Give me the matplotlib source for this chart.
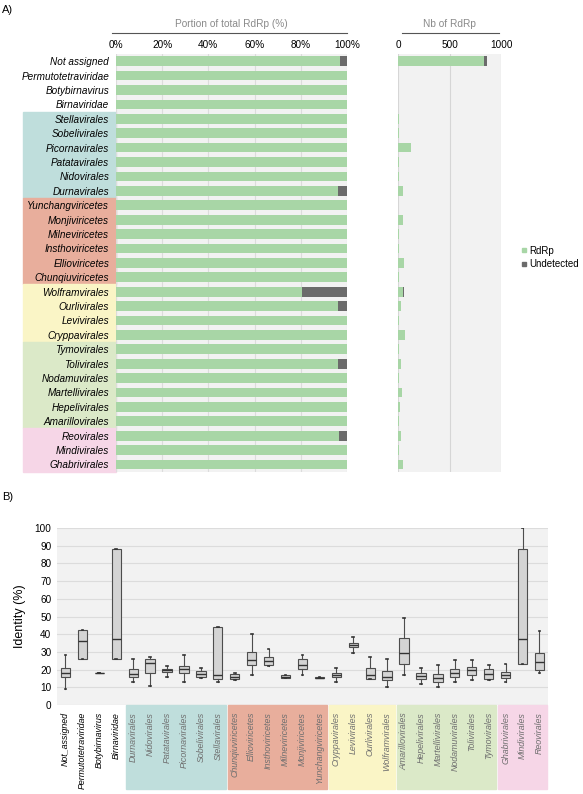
import numpy as np
import matplotlib
matplotlib.use("Agg")
from matplotlib import pyplot as plt
from matplotlib.patches import Rectangle
from matplotlib.lines import Line2D
import matplotlib.transforms as mtransforms

plt.rcParams['font.family'] = ['Liberation Sans', 'DejaVu Sans']

# --- datos panel A (orden de arriba hacia abajo)
top_rows = ["Not assigned", "Permutotetraviridae", "Botybirnavirus", "Birnaviridae",
            "Stellavirales", "Sobelivirales", "Picornavirales", "Patatavirales", "Nidovirales", "Durnavirales",
            "Yunchangviricetes", "Monjiviricetes", "Milneviricetes", "Insthoviricetes", "Ellioviricetes", "Chunqiuviricetes",
            "Wolframvirales", "Ourlivirales", "Levivirales", "Cryppavirales",
            "Tymovirales", "Tolivirales", "Nodamuvirales", "Martellivirales", "Hepelivirales", "Amarillovirales",
            "Reovirales", "Mindivirales", "Ghabrivirales"]
rdrp_n = [835, 3, 1, 2, 4, 6, 126, 8, 5, 48, 3, 42, 4, 5, 58, 6,
          42, 24, 8, 68, 7, 24, 9, 40, 15, 10, 29, 6, 50]
undet_n = [25, 0, 0, 0, 0, 0, 0, 0, 0, 2, 0, 0, 0, 0, 0, 0,
           10, 1, 0, 0, 0, 1, 0, 0, 0, 0, 1, 0, 0]

# grupos (color, cantidad de filas)
group_colors = [None, "#bfdedc", "#e8ae9c", "#faf5c6", "#dbe9c8", "#f6d6e7"]
group_sizes = [4, 6, 6, 4, 6, 3]

# --- datos panel B (orden izquierda a derecha)
box_cats = ["Not_assigned", "Permutotetraviridae", "Botybirnavirus", "Birnaviridae",
            "Durnavirales", "Nidovirales", "Patatavirales", "Picornavirales", "Sobelivirales", "Stellavirales",
            "Chunqiuviricetes", "Ellioviricetes", "Insthoviricetes", "Milneviricetes", "Monjiviricetes", "Yunchangviricetes",
            "Cryppavirales", "Levivirales", "Ourlivirales", "Wolframvirales",
            "Amarillovirales", "Hepelivirales", "Martellivirales", "Nodamuvirales", "Tolivirales", "Tymovirales",
            "Ghabrivirales", "Mindivirales", "Reovirales"]
whis_lo = [9, 26, 18.3, 26, 12.8, 10.9, 15.8, 12.8, 15.1, 13, 14.2, 17.2, 22.1, 15, 17.2, 15.2,
           12.8, 29.2, 14.5, 10, 17.2, 11.9, 10, 12.8, 14.2, 14.2, 12.8, 23.2, 18.1]
q1 = [15.8, 26, 18.3, 26, 15.8, 18.3, 18.7, 17.9, 16, 14.5, 14.5, 22.6, 22.5, 15, 20.2, 15.2,
      15.8, 32.6, 14.5, 13.9, 23.2, 14.5, 12.8, 15.7, 17, 14.9, 15.1, 23.2, 19.6]
med = [18.3, 36, 18.3, 37.2, 17.7, 24, 19.6, 20.4, 17.7, 17.2, 16, 25.3, 24.7, 16, 22.5, 15.5,
       17.2, 34, 16.8, 16, 29.2, 16.4, 15.1, 17.9, 19.6, 17.5, 17, 37.5, 24.2]
q3 = [21.1, 42.3, 18.3, 88.3, 20.2, 26.2, 20.6, 22.3, 19.2, 44.3, 17.7, 29.8, 27, 17.2, 25.8, 15.8,
      18.3, 35.3, 21.1, 19.2, 38.1, 18.3, 17.4, 20.2, 21.5, 20.2, 18.5, 88.3, 29.6]
whis_hi = [28.3, 42.3, 18.3, 88.3, 26, 26.9, 22.3, 28.3, 21.1, 44.3, 18.3, 40.2, 31.9, 17.2, 28.5, 15.8,
           21.1, 38.3, 27.2, 26, 49, 21.1, 22.5, 25.3, 25.3, 22.5, 23, 100, 42]
box_group_sizes = [4, 6, 6, 4, 6, 3]

green = "#a8d6a6"
dark = "#6b6b6b"
bg = "#f2f2f2"

fig = plt.figure(figsize=(5.83, 7.94), dpi=100)

# ---------------- panel A izquierda
axL = fig.add_axes([0.199, 0.406, 0.396, 0.526])
total = np.array(rdrp_n) + np.array(undet_n)
pct_r = np.array(rdrp_n) / total * 100
pct_u = np.array(undet_n) / total * 100
y = np.arange(len(top_rows))
axL.set_facecolor(bg)
axL.barh(y, pct_r, height=0.68, color=green, zorder=2)
axL.barh(y, pct_u, left=pct_r, height=0.68, color=dark, zorder=2)
axL.set_xlim(0, 100)
axL.set_ylim(len(top_rows) - 0.5, -0.5)
axL.set_xticks([0, 20, 40, 60, 80, 100])
axL.set_xticklabels(["0%", "20%", "40%", "60%", "80%", "100%"], fontsize=7.2)
axL.xaxis.tick_top()
axL.grid(axis="x", color="#dcdcdc", lw=0.8, zorder=0)
axL.set_yticks(y)
axL.set_yticklabels(top_rows, fontsize=7.2, style="italic")
axL.tick_params(length=0, pad=3)
axL.tick_params(axis="y", pad=5)
for s in axL.spines.values():
    s.set_visible(False)

# fondos de color para las etiquetas
trans = mtransforms.blended_transform_factory(axL.transAxes, axL.transData)
start = 0
for c, n in zip(group_colors, group_sizes):
    if c is not None:
        axL.add_patch(Rectangle((-0.403, start - 0.5), 0.403, n, transform=trans,
                                color=c, clip_on=False, zorder=0))
    start += n

axL.plot([-0.017, 1.0], [1.05, 1.05], transform=axL.transAxes, color="#555555", lw=0.8, clip_on=False)
axL.text(0.5, 1.072, "Portion of total RdRp (%)", transform=axL.transAxes, ha="center", va="center",
         fontsize=7.3, color="#8a8a8a")

# ---------------- panel A derecha
axR = fig.add_axes([0.683, 0.406, 0.1767, 0.526])
axR.set_facecolor(bg)
axR.barh(y, rdrp_n, height=0.68, color=green, zorder=2)
axR.barh(y, undet_n, left=rdrp_n, height=0.68, color=dark, zorder=2)
axR.set_xlim(0, 1000)
axR.set_ylim(len(top_rows) - 0.5, -0.5)
axR.set_xticks([0, 500, 1000])
axR.set_xticklabels(["0", "500", "1000"], fontsize=7.2)
axR.xaxis.tick_top()
axR.grid(axis="x", color="#d6d6d6", lw=0.8, zorder=0)
axR.set_yticks([])
axR.tick_params(length=0, pad=3)
for s in axR.spines.values():
    s.set_visible(False)
axR.plot([0.04, 0.98], [1.05, 1.05], transform=axR.transAxes, color="#555555", lw=0.8, clip_on=False)
axR.text(0.5, 1.072, "Nb of RdRp", transform=axR.transAxes, ha="center", va="center",
         fontsize=7.3, color="#8a8a8a")

handles = [Line2D([], [], marker="s", ls="", color=green, markersize=2.6),
           Line2D([], [], marker="s", ls="", color=dark, markersize=2.6)]
fig.legend(handles, ["RdRp", "Undetected"], loc="center left", bbox_to_anchor=(0.895, 0.676),
           frameon=False, fontsize=7, handlelength=0.5, handletextpad=0.25, labelspacing=0.35,
           borderaxespad=0, borderpad=0)

# ---------------- panel B
axB = fig.add_axes([0.0978, 0.1121, 0.842, 0.2229])
axB.set_facecolor(bg)
stats = []
for i in range(len(box_cats)):
    stats.append({"label": box_cats[i], "whislo": whis_lo[i], "q1": q1[i], "med": med[i],
                  "q3": q3[i], "whishi": whis_hi[i]})
pos = np.arange(len(box_cats))
axB.bxp(stats, positions=pos, widths=0.55, showfliers=False, patch_artist=True,
        boxprops=dict(facecolor="#d4d4d4", edgecolor="#4d4d4d", lw=0.8),
        medianprops=dict(color="#333333", lw=1.0),
        whiskerprops=dict(color="#4d4d4d", lw=0.8),
        capprops=dict(color="#333333", lw=1.2), capwidths=0.1, zorder=3)
axB.set_xlim(-0.5, len(box_cats) - 0.5)
axB.set_ylim(0, 100)
axB.set_yticks(np.arange(0, 101, 10))
axB.tick_params(axis="y", labelsize=7.2, length=0, pad=4)
axB.grid(axis="y", color="#dcdcdc", lw=0.8, zorder=0)
axB.set_axisbelow(True)
axB.set_xticks(pos)
axB.set_xticklabels(box_cats, rotation=90, fontsize=6.4, style="italic", va="top", ha="center")
axB.tick_params(axis="x", length=0, pad=5)
for i, lab in enumerate(axB.get_xticklabels()):
    lab.set_color("black" if i < 4 else "#6f6f6f")
for s in axB.spines.values():
    s.set_visible(False)
axB.set_ylabel("Identity (%)", fontsize=9, labelpad=6)

transB = mtransforms.blended_transform_factory(axB.transData, axB.transAxes)
start = 0
for c, n in zip(group_colors, box_group_sizes):
    if c is not None:
        axB.add_patch(Rectangle((start - 0.42, -0.475), n - 0.12, 0.475, transform=transB,
                                color=c, clip_on=False, zorder=0))
    start += n

fig.text(0.003, 0.988, "A)", fontsize=8, va="center")
fig.text(0.003, 0.374, "B)", fontsize=8, va="center")

fig.savefig("out.png", dpi=100)
